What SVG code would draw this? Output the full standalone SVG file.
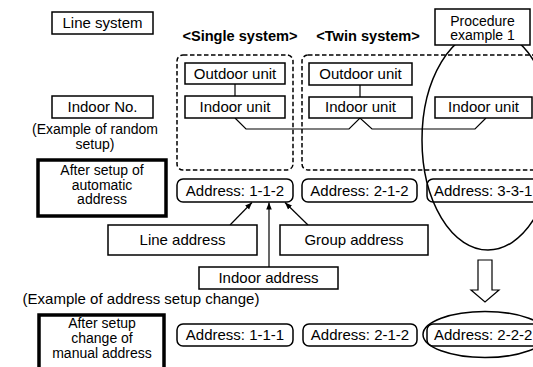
<svg xmlns="http://www.w3.org/2000/svg" width="533" height="367" viewBox="0 0 533 367">
<style>
text{font-family:"Liberation Sans",Arial,sans-serif;font-size:15px;fill:#000;text-anchor:middle}
.m{font-size:14px}
.b{font-weight:bold;font-size:14.6px}
.box{fill:#fff;stroke:#000;stroke-width:1.5}
.thick{fill:#fff;stroke:#000;stroke-width:3.5}
.dash{fill:none;stroke:#000;stroke-width:1.5;stroke-dasharray:4.5,2.5}
.ln{fill:none;stroke:#000;stroke-width:1.2}
.ell{fill:none;stroke:#000;stroke-width:1.5}
</style>
<defs>
<marker id="ah" viewBox="0 0 10 10" refX="10" refY="5" markerWidth="7" markerHeight="7" orient="auto" markerUnits="userSpaceOnUse">
<path d="M0,1 L10,5 L0,9 Z" fill="#000"/>
</marker>
</defs>
<rect width="533" height="367" fill="#fff"/>

<g id="labels">
<g id="line-system"><rect class="box" x="52" y="12" width="101" height="22"/><text x="102.5" y="28">Line system</text></g>
<g id="indoor-no"><rect class="box" x="52" y="96" width="101" height="22"/><text x="102.5" y="112">Indoor No.</text></g>
<text class="m" x="95" y="134">(Example of random</text>
<text class="m" x="95" y="148.5">setup)</text>
<g id="after-auto"><rect class="thick" x="38" y="160" width="128" height="56"/><text class="m" x="102" y="175">After setup of</text><text class="m" x="102" y="189.5">automatic</text><text class="m" x="102" y="204">address</text></g>
<text x="141" y="304">(Example of address setup change)</text>
<g id="after-manual"><rect class="thick" x="39" y="315" width="125" height="60"/><text class="m" x="102" y="328">After setup</text><text class="m" x="102" y="343">change of</text><text class="m" x="102" y="358">manual address</text></g>
<text class="b" x="240" y="40.5">&lt;Single system&gt;</text>
<text class="b" x="368" y="40.5">&lt;Twin system&gt;</text>
</g>

<g id="groups">
<rect class="dash" x="177" y="55" width="116" height="115" rx="6"/>
<rect class="dash" x="302" y="55" width="250" height="115" rx="6"/>
</g>

<g id="connectors">
<line class="ln" x1="235" y1="84" x2="235" y2="96"/>
<line class="ln" x1="360" y1="85" x2="360" y2="97"/>
<polyline class="ln" points="235,118 246,129 349,129 360,118 372,129 475,129 486,118"/>
<line class="ln" x1="230" y1="225" x2="252" y2="202.5" marker-end="url(#ah)"/>
<line class="ln" x1="269" y1="267" x2="269" y2="202.5" marker-end="url(#ah)"/>
<line class="ln" x1="308" y1="225" x2="285" y2="202.5" marker-end="url(#ah)"/>
</g>

<g id="single-outdoor"><rect class="box" x="185" y="63" width="100" height="21"/><text x="235" y="79">Outdoor unit</text></g>
<g id="single-indoor"><rect class="box" x="185" y="96" width="100" height="22"/><text x="235" y="112">Indoor unit</text></g>
<g id="twin-outdoor"><rect class="box" x="309" y="63" width="103" height="22"/><text x="360.5" y="79">Outdoor unit</text></g>
<g id="twin-indoor1"><rect class="box" x="309" y="97" width="103" height="21"/><text x="360.5" y="112">Indoor unit</text></g>
<g id="twin-indoor2"><rect class="box" x="435" y="97" width="97" height="21"/><text x="483.5" y="112">Indoor unit</text></g>

<g id="addr-auto-1"><rect class="box" x="177" y="179" width="116" height="23" rx="6"/><text x="235" y="196">Address: 1-1-2</text></g>
<g id="addr-auto-2"><rect class="box" x="302" y="179" width="115" height="23" rx="6"/><text x="359.5" y="196">Address: 2-1-2</text></g>
<g id="addr-auto-3"><rect class="box" x="427" y="179" width="120" height="23" rx="6"/><text x="434" y="196" style="text-anchor:start">Address: 3-3-1</text></g>

<g id="line-address"><rect class="box" x="108" y="225" width="149" height="30"/><text x="182.5" y="245">Line address</text></g>
<g id="group-address"><rect class="box" x="280" y="225" width="148" height="30"/><text x="354" y="245">Group address</text></g>
<g id="indoor-address"><rect class="box" x="199" y="267" width="139" height="22"/><text x="268.5" y="283">Indoor address</text></g>

<g id="addr-man-1"><rect class="box" x="177" y="324" width="116" height="22" rx="6"/><text x="235" y="340">Address: 1-1-1</text></g>
<g id="addr-man-2"><rect class="box" x="303" y="324" width="114" height="22" rx="6"/><text x="360" y="340">Address: 2-1-2</text></g>
<g id="addr-man-3"><rect class="box" x="427" y="324" width="120" height="22" rx="6"/><text x="434" y="340" style="text-anchor:start">Address: 2-2-2</text></g>

<g id="highlight">
<ellipse class="ell" cx="488" cy="140" rx="66" ry="110"/>
<ellipse class="ell" cx="485" cy="334.5" rx="62" ry="23"/>
<polygon fill="#fff" stroke="#000" stroke-width="1.2" points="478,260 492,260 492,290 499,290 485,302 471,290 478,290"/>
</g>

<g id="procedure"><rect class="box" x="435" y="9" width="95" height="36"/><text class="m" x="482.5" y="25.5">Procedure</text><text class="m" x="482.5" y="40">example 1</text></g>
</svg>
